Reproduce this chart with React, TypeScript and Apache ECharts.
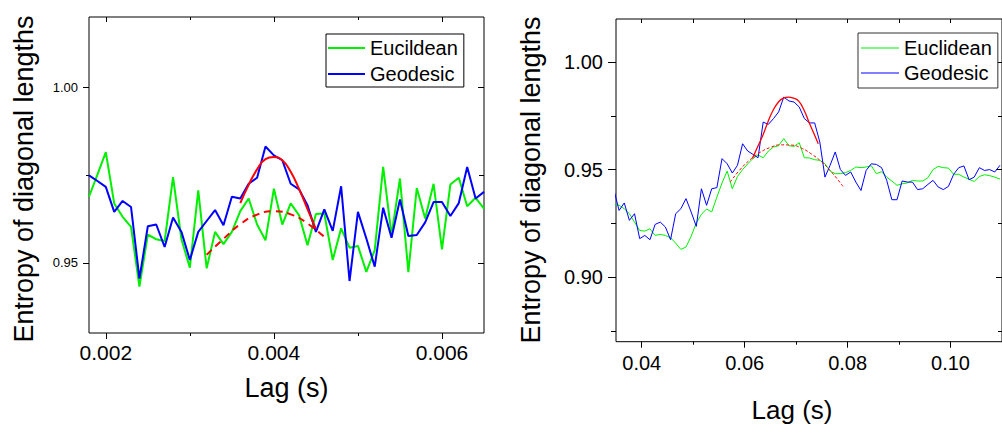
import React, { useEffect, useRef } from "react";
import * as echarts from "echarts";

// ---------- Left panel data ----------
const leftLag = [
  0.0018, 0.0019, 0.002, 0.0021, 0.0022, 0.0023, 0.0024, 0.0025, 0.0026, 0.0027,
  0.0028, 0.0029, 0.003, 0.0031, 0.0032, 0.0033, 0.0034, 0.0035, 0.0036, 0.0037,
  0.0038, 0.0039, 0.004, 0.0041, 0.0042, 0.0043, 0.0044, 0.0045, 0.0046, 0.0047,
  0.0048, 0.0049, 0.005, 0.0051, 0.0052, 0.0053, 0.0054, 0.0055, 0.0056, 0.0057,
  0.0058, 0.0059, 0.006, 0.0061, 0.0062, 0.0063, 0.0064, 0.0065,
];
const leftEuclidean = [
  0.9688, 0.9751, 0.9815, 0.9669, 0.9631, 0.9602, 0.9432, 0.958, 0.9567, 0.9562,
  0.9744, 0.9567, 0.9486, 0.9706, 0.9484, 0.9588, 0.9553, 0.9588, 0.9647, 0.9683,
  0.9609, 0.9564, 0.9711, 0.9609, 0.9669, 0.9635, 0.955, 0.9639, 0.964, 0.9508,
  0.9598, 0.9543, 0.9548, 0.9474, 0.9536, 0.9773, 0.9579, 0.974, 0.9473, 0.9713,
  0.9626, 0.9725, 0.9538, 0.9723, 0.9742, 0.9661, 0.9685, 0.9654,
];
const leftGeodesic = [
  0.9749, 0.9733, 0.9716, 0.9645, 0.9676, 0.9659, 0.9455, 0.9604, 0.9609, 0.9545,
  0.9629, 0.9588, 0.9508, 0.9588, 0.9619, 0.965, 0.9607, 0.9688, 0.9683, 0.9725,
  0.9742, 0.9831, 0.9806, 0.9792, 0.9725, 0.9709, 0.9664, 0.9588, 0.9652, 0.9591,
  0.9718, 0.9448, 0.9645, 0.9569, 0.9489, 0.9657, 0.9571, 0.968, 0.9576, 0.9579,
  0.9615, 0.9673, 0.9673, 0.9633, 0.967, 0.9773, 0.9683, 0.9702,
];
const leftFitGeoLag = [0.0036, 0.0037, 0.0038, 0.0039, 0.004, 0.0041, 0.0042, 0.0043, 0.0044, 0.0045];
const leftFitGeo = [0.967, 0.9722, 0.9766, 0.9795, 0.9801, 0.9792, 0.9759, 0.971, 0.9653, 0.9596];
const leftFitEucLag = [0.0032, 0.0034, 0.0036, 0.0038, 0.004, 0.0042, 0.0044, 0.00463];
const leftFitEuc = [0.9523, 0.9568, 0.961, 0.9637, 0.9647, 0.9638, 0.9612, 0.9567];

// ---------- Right panel data ----------
const rightLag = [
  0.0346, 0.0356, 0.0366, 0.0376, 0.0386, 0.0396, 0.0406, 0.0416, 0.0426, 0.0436,
  0.0446, 0.0456, 0.0466, 0.0476, 0.0486, 0.0496, 0.0506, 0.0516, 0.0526, 0.0536,
  0.0546, 0.0556, 0.0566, 0.0576, 0.0586, 0.0596, 0.0606, 0.0616, 0.0626, 0.0636,
  0.0646, 0.0656, 0.0666, 0.0676, 0.0686, 0.0696, 0.0706, 0.0716, 0.0726, 0.0736,
  0.0746, 0.0756, 0.0766, 0.0776, 0.0786, 0.0796, 0.0806, 0.0816, 0.0826, 0.0836,
  0.0846, 0.0856, 0.0866, 0.0876, 0.0886, 0.0896, 0.0906, 0.0916, 0.0926, 0.0936,
  0.0946, 0.0956, 0.0966, 0.0976, 0.0986, 0.0996, 0.1006, 0.1016, 0.1026, 0.1036,
  0.1046, 0.1056, 0.1066, 0.1076, 0.1086, 0.1096,
];
const rightGeodesic = [
  0.9405, 0.931, 0.9345, 0.9264, 0.9295, 0.9179, 0.9194, 0.9174, 0.9245, 0.9256,
  0.9233, 0.9174, 0.9295, 0.9318, 0.9365, 0.9303, 0.9236, 0.9411, 0.9334, 0.9411,
  0.9416, 0.9551, 0.9527, 0.9484, 0.952, 0.962, 0.9586, 0.9571, 0.9555, 0.9721,
  0.971, 0.9737, 0.9768, 0.9837, 0.9819, 0.9814, 0.9791, 0.9737, 0.9717, 0.9717,
  0.9628, 0.9465, 0.952, 0.9582, 0.95, 0.9473, 0.9489, 0.9442, 0.9403, 0.9496,
  0.9527, 0.9524, 0.9509, 0.945, 0.936, 0.936, 0.9447, 0.9442, 0.9442, 0.9407,
  0.9411, 0.9431, 0.945, 0.9419, 0.9407, 0.9422, 0.9478, 0.9509, 0.9517, 0.9453,
  0.9465, 0.9509, 0.9496, 0.95, 0.9489, 0.952,
];
const rightEuclidean = [
  0.934, 0.9334, 0.9318, 0.9295, 0.9256, 0.9217, 0.9214, 0.9225, 0.9194, 0.9199,
  0.9194, 0.9183, 0.9158, 0.9129, 0.914, 0.919, 0.9252, 0.9292, 0.9317, 0.9303,
  0.9372, 0.9438, 0.9493, 0.9411, 0.9468, 0.95, 0.9527, 0.9551, 0.9568, 0.9555,
  0.9586, 0.9605, 0.9611, 0.9644, 0.9611, 0.9608, 0.9625, 0.9555, 0.9554, 0.9546,
  0.9543, 0.9527, 0.9493, 0.9481, 0.9481, 0.9486, 0.9496, 0.9512, 0.9509, 0.9512,
  0.9518, 0.9481, 0.949, 0.9465, 0.9447, 0.9427, 0.9434, 0.9438, 0.945, 0.9447,
  0.9447, 0.9462, 0.95, 0.9515, 0.9509, 0.9507, 0.9478, 0.9478, 0.9465, 0.9455,
  0.9445, 0.9468, 0.9476, 0.9472, 0.9465, 0.9456,
];
const rightFitGeoLag = [0.0615, 0.0625, 0.0635, 0.0645, 0.0655, 0.0665, 0.0675, 0.0685, 0.0695, 0.0705, 0.0715, 0.0725, 0.0735, 0.0743];
const rightFitGeo = [0.9552, 0.9605, 0.9657, 0.972, 0.9775, 0.9812, 0.9832, 0.9837, 0.9832, 0.9818, 0.9778, 0.972, 0.9665, 0.962];
const rightFitEucLag = [0.0572, 0.059, 0.061, 0.063, 0.065, 0.067, 0.069, 0.071, 0.073, 0.075, 0.077, 0.0791];
const rightFitEuc = [0.9442, 0.9497, 0.9545, 0.958, 0.9603, 0.9615, 0.9614, 0.96, 0.9572, 0.9535, 0.9485, 0.9422];

// ---------- Tick values ----------
const leftXMajor = [0.002, 0.004, 0.006];
const leftXMinor = [0.003, 0.005];
const leftYMajor = [0.95, 1.0];
const leftYMinor = [0.975];
const rightXMajor = [0.04, 0.06, 0.08, 0.1];
const rightXMinor = [0.05, 0.07, 0.09, 0.11];
const rightYMajor = [0.9, 0.95, 1.0];
const rightYMinor = [0.875, 0.925, 0.975];

const FONT = "'Liberation Sans', Arial, Helvetica, sans-serif";
const GREEN = "#00f000";
const BLUE = "#0000ff";
const RED = "#ff0000";

const zip = (xs: number[], ys: number[]) => xs.map((x, i) => [x, ys[i]]);

function axis(
  gridIndex: number,
  position: string,
  min: number,
  max: number,
  ticks: number[],
  len: number,
  inside: boolean,
  label?: { size: number; margin: number; digits: number }
) {
  return {
    type: "value",
    gridIndex,
    position,
    min,
    max,
    axisLine: { show: false, onZero: false },
    splitLine: { show: false },
    axisTick: {
      show: true,
      inside,
      length: len,
      customValues: ticks,
      lineStyle: { color: "#000", width: 1 },
    },
    axisLabel: label
      ? {
          show: true,
          customValues: ticks,
          fontSize: label.size,
          fontFamily: FONT,
          color: "#000",
          margin: label.margin,
          formatter: (v: number) => v.toFixed(label.digits),
        }
      : { show: false },
  };
}

export default function App() {
  const ref = useRef<HTMLDivElement>(null);
  useEffect(() => {
    if (!ref.current) return;
    const chart = echarts.init(ref.current, undefined, { renderer: "svg" });
    const L = { xmin: 0.0018, xmax: 0.0065, ymin: 0.93, ymax: 1.02 };
    const R = { xmin: 0.035, xmax: 0.11, ymin: 0.87, ymax: 1.02 };
    chart.setOption({
      animation: false,
      grid: [
        { left: 89, top: 17, width: 395, height: 316, show: true, borderColor: "#000", borderWidth: 1, backgroundColor: "transparent" },
        { left: 616, top: 19, width: 392.4, height: 322.7, show: true, borderColor: "#000", borderWidth: 1, backgroundColor: "transparent" },
      ],
      xAxis: [
        axis(0, "bottom", L.xmin, L.xmax, leftXMajor, 6, false, { size: 21, margin: 9, digits: 3 }),
        axis(0, "bottom", L.xmin, L.xmax, leftXMinor, 3, false),
        axis(0, "top", L.xmin, L.xmax, leftXMajor, 5, true),
        axis(0, "top", L.xmin, L.xmax, leftXMinor, 3, true),
        axis(1, "bottom", R.xmin, R.xmax, rightXMajor, 6, false, { size: 20, margin: 11, digits: 2 }),
        axis(1, "bottom", R.xmin, R.xmax, rightXMinor, 3, false),
        axis(1, "top", R.xmin, R.xmax, rightXMajor, 4, true),
        axis(1, "top", R.xmin, R.xmax, rightXMinor, 4, true),
      ],
      yAxis: [
        axis(0, "left", L.ymin, L.ymax, leftYMajor, 6, false, { size: 13, margin: 11, digits: 2 }),
        axis(0, "left", L.ymin, L.ymax, leftYMinor, 3, false),
        axis(0, "right", L.ymin, L.ymax, leftYMajor, 6, true),
        axis(0, "right", L.ymin, L.ymax, leftYMinor, 5, true),
        axis(1, "left", R.ymin, R.ymax, rightYMajor, 8, false, { size: 20, margin: 13, digits: 2 }),
        axis(1, "left", R.ymin, R.ymax, rightYMinor, 5, false),
        axis(1, "right", R.ymin, R.ymax, rightYMajor, 6, true),
        axis(1, "right", R.ymin, R.ymax, rightYMinor, 4, true),
      ],
      legend: [
        {
          orient: "vertical",
          left: 326,
          top: 34,
          padding: [4, 6, 3, 2],
          itemGap: 6,
          itemWidth: 37,
          itemHeight: 2,
          icon: "rect",
          borderColor: "#000",
          borderWidth: 1,
          backgroundColor: "#fff",
          align: "left",
          data: ["Eucildean", "Geodesic"],
          textStyle: { fontSize: 20, fontFamily: FONT, color: "#000", lineHeight: 20 },
          selectedMode: false,
        },
        {
          orient: "vertical",
          left: 858,
          top: 33,
          padding: [5, 6, 5, 3],
          itemGap: 5,
          itemWidth: 38,
          itemHeight: 1,
          icon: "rect",
          borderColor: "#333",
          borderWidth: 1,
          backgroundColor: "#fff",
          align: "left",
          data: ["Euclidean", "Geodesic"],
          textStyle: { fontSize: 20, fontFamily: FONT, color: "#000", lineHeight: 20 },
          selectedMode: false,
        },
      ],
      series: [
        { name: "Eucildean", type: "line", xAxisIndex: 0, yAxisIndex: 0, symbol: "none", data: zip(leftLag, leftEuclidean), lineStyle: { color: GREEN, width: 2 }, itemStyle: { color: GREEN } },
        { name: "Geodesic", type: "line", xAxisIndex: 0, yAxisIndex: 0, symbol: "none", data: zip(leftLag, leftGeodesic), lineStyle: { color: BLUE, width: 2 }, itemStyle: { color: BLUE } },
        { name: "Euclidean fit", type: "line", xAxisIndex: 0, yAxisIndex: 0, symbol: "none", smooth: true, data: zip(leftFitEucLag, leftFitEuc), lineStyle: { color: RED, width: 2, type: [7, 5] }, itemStyle: { color: RED } },
        { name: "Geodesic fit", type: "line", xAxisIndex: 0, yAxisIndex: 0, symbol: "none", smooth: true, data: zip(leftFitGeoLag, leftFitGeo), lineStyle: { color: RED, width: 2 }, itemStyle: { color: RED } },
        { name: "Euclidean", type: "line", xAxisIndex: 4, yAxisIndex: 4, symbol: "none", data: zip(rightLag, rightEuclidean), lineStyle: { color: GREEN, width: 1 }, itemStyle: { color: GREEN } },
        { name: "Geodesic", type: "line", xAxisIndex: 4, yAxisIndex: 4, symbol: "none", data: zip(rightLag, rightGeodesic), lineStyle: { color: BLUE, width: 1 }, itemStyle: { color: BLUE } },
        { name: "Euclidean fit R", type: "line", xAxisIndex: 4, yAxisIndex: 4, symbol: "none", smooth: true, data: zip(rightFitEucLag, rightFitEuc), lineStyle: { color: RED, width: 1, type: [3, 2] }, itemStyle: { color: RED } },
        { name: "Geodesic fit R", type: "line", xAxisIndex: 4, yAxisIndex: 4, symbol: "none", smooth: true, data: zip(rightFitGeoLag, rightFitGeo), lineStyle: { color: RED, width: 1.3 }, itemStyle: { color: RED } },
      ],
      graphic: [
        { type: "text", x: 23.6, y: 179, rotation: Math.PI / 2, style: { text: "Entropy of diagonal lengths", font: `27px ${FONT}`, fill: "#000", align: "center", verticalAlign: "middle" } },
        { type: "text", x: 286.5, y: 388, style: { text: "Lag (s)", font: `27px ${FONT}`, fill: "#000", align: "center", verticalAlign: "middle" } },
        { type: "text", x: 530.6, y: 180, rotation: Math.PI / 2, style: { text: "Entropy of diagonal lengths", font: `27px ${FONT}`, fill: "#000", align: "center", verticalAlign: "middle" } },
        { type: "text", x: 792, y: 409.6, style: { text: "Lag (s)", font: `26px ${FONT}`, fill: "#000", align: "center", verticalAlign: "middle" } },
      ],
    });
    return () => chart.dispose();
  }, []);
  return (
    <div
      ref={ref}
      style={{ position: "fixed", left: 0, top: 0, width: 1002, height: 425, background: "#fff" }}
    />
  );
}
